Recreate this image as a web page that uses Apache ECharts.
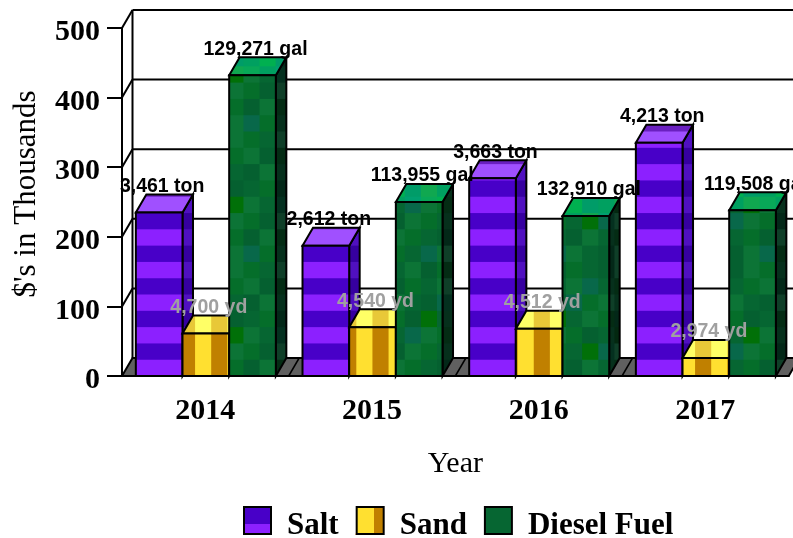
<!DOCTYPE html>
<html>
<head>
<meta charset="utf-8">
<style>
  html, body { margin: 0; padding: 0; background: #fff; overflow: hidden; }
  #chart { width: 793px; height: 538px; }
</style>
<script src="https://cdn.jsdelivr.net/npm/echarts@6/dist/echarts.min.js"></script>
</head>
<body>
<div id="chart"></div>
<script>
var categories = ['2014', '2015', '2016', '2017'];
var yTicks = [0, 100, 200, 300, 400, 500];
var saltValues = [235, 187, 284, 335];
var sandValues = [61, 70, 68, 26];
var dieselValues = [432, 250, 230, 238];
var saltLabels = ['3,461 ton', '2,612 ton', '3,663 ton', '4,213 ton'];
var sandLabels = ['4,700 yd', '4,540 yd', '4,512 yd', '2,974 yd'];
var dieselLabels = ['129,271 gal', '113,955 gal', '132,910 gal', '119,508 gal'];

// 3d depth of the box, in pixels
var DX = 10.5;
var DY = 18;
var SERIF = '"Liberation Serif", serif';

// texture tiles, anchored to the page so all the bars line up
function makeTile(cols, rows, colorAt) {
  var c = document.createElement('canvas');
  c.width = cols * 16;
  c.height = rows * 16;
  var ctx = c.getContext('2d');
  for (var i = 0; i < cols; i++) {
    for (var j = 0; j < rows; j++) {
      ctx.fillStyle = colorAt(i, j);
      ctx.fillRect(i * 16, j * 16, 16, 16);
    }
  }
  return { image: c, repeat: 'repeat', x: 1.44, y: 1.1, scaleX: 16.13 / 16, scaleY: 16.3 / 16 };
}
function stripesH(light, dark) {
  return makeTile(1, 2, function (i, j) { return j % 2 === 0 ? light : dark; });
}
function stripesV(bright, gold) {
  return makeTile(2, 1, function (i) { return i % 2 === 0 ? bright : gold; });
}
var greenCells = [
  [0, 1, 2, 3, 0, 2, 1, 3],
  [2, 3, 0, 1, 4, 0, 3, 1],
  [1, 0, 2, 4, 3, 1, 0, 2],
  [3, 2, 5, 0, 1, 3, 2, 0],
  [0, 4, 1, 3, 2, 0, 5, 1],
  [2, 1, 3, 0, 5, 4, 1, 3],
  [1, 3, 0, 2, 1, 0, 3, 2],
  [3, 0, 4, 1, 0, 2, 1, 4]
];
function mottled(palette) {
  return makeTile(8, 8, function (i, j) { return palette[greenCells[j][i]]; });
}
var faces = [
  {
    front: stripesH('#8c20ff', '#4800c8'),
    side: stripesH('#5010c0', '#3600a0'),
    top: stripesH('#a050ff', '#6a20c0')
  },
  {
    front: stripesV('#ffe030', '#c08000'),
    side: stripesV('#a08010', '#805800'),
    top: stripesV('#ffff66', '#e8c838')
  },
  {
    front: mottled(['#066632', '#0c7436', '#056030', '#056e2a', '#08684a', '#017008']),
    side: mottled(['#06301c', '#0f3f28', '#032818', '#042c14', '#04301f', '#032810']),
    top: mottled(['#00a060', '#08a858', '#009c68', '#00b050', '#00a070', '#10a850'])
  }
];

// legend swatches show one hard colour split
function split(x2, y2, first, second, at) {
  return {
    type: 'linear', x: 0, y: 0, x2: x2, y2: y2,
    colorStops: [
      { offset: 0, color: first }, { offset: at, color: first },
      { offset: at, color: second }, { offset: 1, color: second }
    ]
  };
}

function renderWalls(params, api) {
  var band = api.size([1, 0])[0];
  var tick = api.value(1);
  var y = api.coord([0, tick])[1];
  var left = api.coord([0, tick])[0] - band / 2;
  var right = api.coord([categories.length - 1, tick])[0] + band / 2;
  var ink = { stroke: '#000', lineWidth: 2, fill: 'none' };
  var children = [];
  if (tick === 0) {
    children.push({
      type: 'polygon',
      shape: { points: [[left, y], [left + DX, y - DY], [right + DX, y - DY], [right, y]] },
      style: { fill: '#606060', stroke: '#000', lineWidth: 2 }
    });
    for (var i = 1; i < categories.length; i++) {
      var sep = left + band * i;
      children.push({
        type: 'line',
        shape: { x1: sep, y1: y, x2: sep + DX, y2: y - DY },
        style: { stroke: '#000', lineWidth: 1.5 }
      });
    }
    children.push({
      type: 'line',
      shape: { x1: left + DX, y1: y - DY, x2: left + DX, y2: api.coord([0, yTicks[yTicks.length - 1]])[1] - DY },
      style: ink
    });
  } else {
    children.push({ type: 'line', shape: { x1: left, y1: y, x2: left + DX, y2: y - DY }, style: ink });
    children.push({ type: 'line', shape: { x1: left + DX, y1: y - DY, x2: right + DX, y2: y - DY }, style: ink });
  }
  return { type: 'group', children: children };
}

function barRenderer(seriesIndex, labels, labelColor) {
  return function (params, api) {
    var cat = api.value(0);
    var top = api.coord([cat, api.value(1)]);
    var base = api.coord([cat, 0]);
    var band = api.size([1, 0])[0];
    var w = band * 0.28;
    var x = top[0] + (seriesIndex - 1.5) * w + 0.5;
    var face = faces[seriesIndex];
    var edge = { stroke: '#000', lineWidth: 2 };
    return {
      type: 'group',
      children: [
        {
          type: 'polygon',
          shape: { points: [[x + w, top[1]], [x + w + DX, top[1] - DY], [x + w + DX, base[1] - DY], [x + w, base[1]]] },
          style: Object.assign({ fill: face.side }, edge)
        },
        {
          type: 'polygon',
          shape: { points: [[x, top[1]], [x + DX, top[1] - DY], [x + w + DX, top[1] - DY], [x + w, top[1]]] },
          style: Object.assign({ fill: face.top }, edge)
        },
        {
          type: 'rect',
          shape: { x: x, y: top[1], width: w, height: base[1] - top[1] },
          style: Object.assign({ fill: face.front }, edge)
        },
        {
          type: 'text',
          z2: 100,
          style: {
            text: labels[cat],
            x: x + w / 2 + 3,
            y: top[1] - DY - 8,
            align: 'center',
            verticalAlign: 'middle',
            fill: labelColor,
            font: 'bold 19.5px "Liberation Sans", sans-serif'
          }
        }
      ]
    };
  };
}

function pairs(values) {
  return values.map(function (v, i) { return [i, v]; });
}

// coloured rule under each legend swatch
function underline(x, color) {
  return { type: 'rect', shape: { x: x, y: 533.5, width: 28, height: 1.5 }, style: { fill: color }, silent: true };
}

var chart = echarts.init(document.getElementById('chart'));
chart.setOption({
  animation: false,
  grid: { left: 122, top: 28, width: 666.7, height: 348, outerBoundsMode: 'none' },
  legend: {
    left: 243,
    top: 506,
    padding: 0,
    icon: 'rect',
    itemWidth: 27,
    itemHeight: 27,
    itemGap: 17,
    selectedMode: false,
    formatter: '{t|{name}}',
    textStyle: {
      rich: {
        t: { color: '#000', fontFamily: SERIF, fontWeight: 'bold', fontSize: 31, padding: [10, 0, 0, 11] }
      }
    },
    data: [
      { name: 'Salt', itemStyle: { color: split(0, 1, '#4800c8', '#8c20ff', 0.62), borderColor: '#000', borderWidth: 2 } },
      { name: 'Sand', itemStyle: { color: split(1, 0, '#ffe030', '#c08000', 0.62), borderColor: '#000', borderWidth: 2 } },
      { name: 'Diesel Fuel', itemStyle: { color: '#066632', borderColor: '#000', borderWidth: 2 } }
    ]
  },
  graphic: [underline(243, '#e040ff'), underline(355.5, '#ffa030'), underline(484, '#209060')],
  xAxis: {
    type: 'category',
    data: categories,
    name: 'Year',
    nameLocation: 'middle',
    nameGap: 73,
    nameMoveOverlap: false,
    nameTextStyle: { color: '#000', fontFamily: SERIF, fontSize: 30 },
    axisLine: { lineStyle: { color: '#000', width: 2 } },
    axisTick: { alignWithLabel: true, length: 15, lineStyle: { color: '#000', width: 2 } },
    axisLabel: { color: '#000', fontFamily: SERIF, fontWeight: 'bold', fontSize: 30, margin: 20 },
    z: 5
  },
  yAxis: {
    type: 'value',
    min: 0,
    max: 500,
    interval: 100,
    name: "$'s in Thousands",
    nameLocation: 'middle',
    nameGap: 80,
    nameMoveOverlap: false,
    nameTextStyle: { color: '#000', fontFamily: SERIF, fontSize: 31, padding: [0, 0, 0, 16] },
    axisLine: { show: true, lineStyle: { color: '#000', width: 2 } },
    axisTick: { show: true, length: 15, lineStyle: { color: '#000', width: 2 } },
    axisLabel: {
      margin: 22,
      formatter: '{v|{value}}',
      rich: {
        v: { color: '#000', fontFamily: SERIF, fontWeight: 'bold', fontSize: 30, padding: [9, 0, 0, 0] }
      }
    },
    splitLine: { show: false }
  },
  series: [
    { type: 'custom', name: 'walls', renderItem: renderWalls, data: yTicks.map(function (t) { return [0, t]; }), silent: true, z: 1 },
    { type: 'custom', name: 'Salt', renderItem: barRenderer(0, saltLabels, '#000'), data: pairs(saltValues), silent: true, z: 2 },
    { type: 'custom', name: 'Sand', renderItem: barRenderer(1, sandLabels, '#a0a0a0'), data: pairs(sandValues), silent: true, z: 2 },
    { type: 'custom', name: 'Diesel Fuel', renderItem: barRenderer(2, dieselLabels, '#000'), data: pairs(dieselValues), silent: true, z: 2 }
  ]
});
</script>
</body>
</html>
